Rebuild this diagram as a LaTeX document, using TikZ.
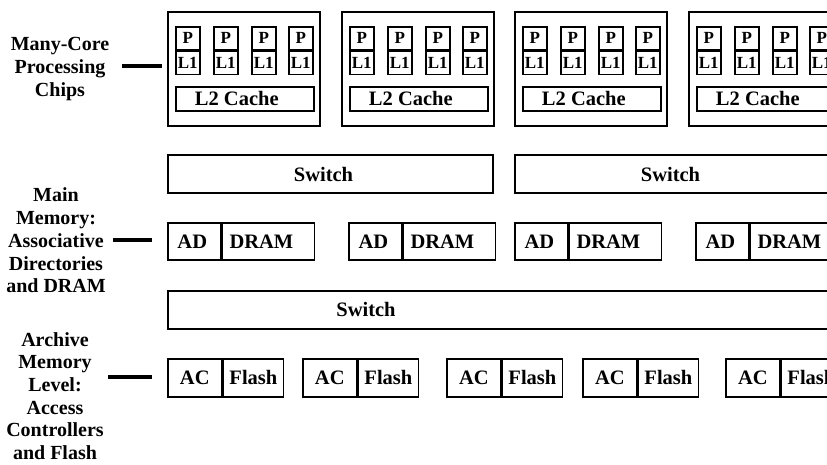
\documentclass[tikz,border=0pt]{standalone}
\usepackage{fontspec}
\setmainfont{Liberation Serif}
\begin{document}
\begin{tikzpicture}[x=1pt,y=-1pt,
  chip/.style={draw, line width=2pt, inner sep=0pt, anchor=north west},
  cell/.style={draw, line width=1.6pt, inner sep=0pt},
  big/.style={font=\fontsize{20.5}{22.5}\selectfont\bfseries, inner sep=0pt},
  small/.style={font=\fontsize{17}{18}\selectfont\bfseries},
  lbl/.style={align=center, font=\fontsize{20}{22.7}\selectfont\bfseries, inner sep=0pt},
  link/.style={line width=4pt}]
\useasboundingbox (0,0) rectangle (827,465);
\clip (0,0) rectangle (827,465);

% left labels
\node[lbl] (lab1) at (60,69) {Many-Core\\Processing\\Chips};
\node[lbl] (lab2) at (56,240.5) {Main\\Memory:\\Associative\\Directories\\and DRAM};
\node[lbl] (lab3) at (55,396) {Archive\\Memory\\Level:\\Access\\Controllers\\and Flash};
\coordinate (a1) at (122,66); \coordinate (b1) at (162,66);
\coordinate (a2) at (113,240); \coordinate (b2) at (152,240);
\coordinate (a3) at (108,377); \coordinate (b3) at (152,377);
\draw[link] (a1) -- (b1);
\draw[link] (a2) -- (b2);
\draw[link] (a3) -- (b3);

% chips
\foreach \cx [count=\i] in {167,341,514,688} {
  \node[chip, minimum width=152pt, minimum height=114pt] (chip\i) at (\cx,11) {};
  \foreach \px [count=\j] in {8,46,84,121} {
    \node[cell, small, minimum width=24pt, minimum height=23pt, anchor=north west] (p\i\j) at (\cx+\px,26) {P};
    \node[cell, small, minimum width=24pt, minimum height=23pt, anchor=north] (l\i\j) at (p\i\j.south) {L1};
  }
  \node[cell, minimum width=138pt, minimum height=24pt, anchor=north west] (ltwo\i) at (\cx+8,86) {};
  \node[big] (ltwot\i) at ([xshift=-8pt]ltwo\i.center) {L2 Cache};
}

% switches
\node[chip, minimum width=325pt, minimum height=38pt] (sw1) at (167,154) {};
\node[big] (sw1t) at ([xshift=-7pt]sw1.center) {Switch};
\node[chip, minimum width=325pt, minimum height=38pt] (sw2) at (514,154) {};
\node[big] (sw2t) at ([xshift=-7pt]sw2.center) {Switch};

% AD / DRAM
\foreach \bx [count=\i] in {167,348,514,695} {
  \node[cell, minimum width=53pt, minimum height=37pt, anchor=north west] (ad\i) at (\bx,222) {};
  \node[cell, minimum width=92pt, minimum height=37pt, anchor=west] (dram\i) at (ad\i.east) {};
  \node[big] (adt\i) at ([xshift=-2pt]ad\i.center) {AD};
  \node[big] (dramt\i) at ([xshift=-7pt]dram\i.center) {DRAM};
}

% lower switch
\node[chip, minimum width=700pt, minimum height=38pt] (sw3) at (167,290) {};
\node[big] (sw3t) at (366,309) {Switch};

% AC / Flash
\foreach \bx [count=\i] in {167,302,446,582,725} {
  \node[cell, minimum width=54pt, minimum height=38pt, anchor=north west] (ac\i) at (\bx,358) {};
  \node[cell, minimum width=60pt, minimum height=38pt, anchor=west] (fl\i) at (ac\i.east) {};
  \node[big] (act\i) at (ac\i.center) {AC};
  \node[big] (flt\i) at (fl\i.center) {Flash};
}
\end{tikzpicture}
\end{document}
